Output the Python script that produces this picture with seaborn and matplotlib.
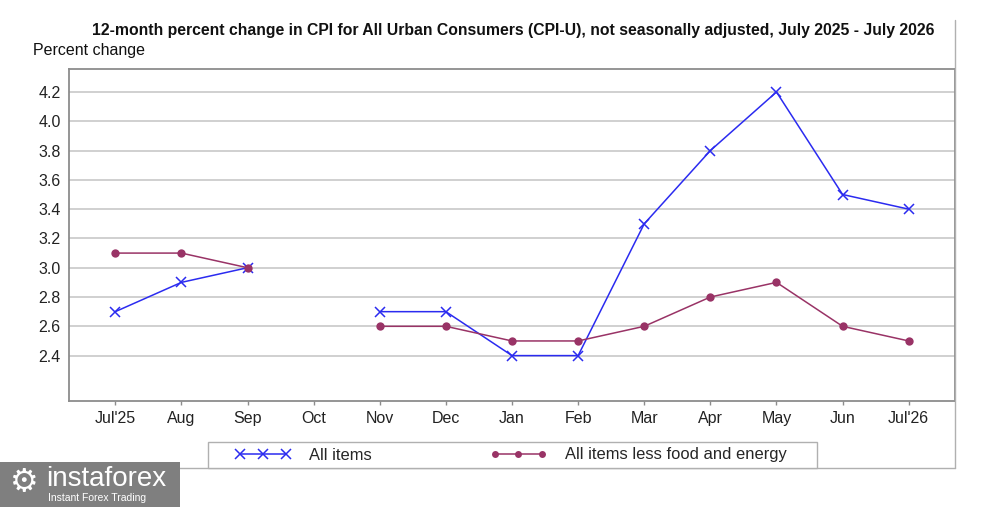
import numpy as np
import pandas as pd
import matplotlib
matplotlib.use("Agg")
import matplotlib.pyplot as plt
from matplotlib.lines import Line2D
from matplotlib.patches import Rectangle
import seaborn as sns

months = ["Jul'25", "Aug", "Sep", "Oct", "Nov", "Dec", "Jan", "Feb", "Mar", "Apr", "May", "Jun", "Jul'26"]
all_items = [2.7, 2.9, 3.0, np.nan, 2.7, 2.7, 2.4, 2.4, 3.3, 3.8, 4.2, 3.5, 3.4]
core_items = [3.1, 3.1, 3.0, np.nan, 2.6, 2.6, 2.5, 2.5, 2.6, 2.8, 2.9, 2.6, 2.5]
y_ticks = [2.4, 2.6, 2.8, 3.0, 3.2, 3.4, 3.6, 3.8, 4.0, 4.2]
series_names = ["All items", "All items less food and energy"]

sns.set_theme(style="white")
plt.rcParams['font.family'] = ['Liberation Sans', 'DejaVu Sans']

def make_df(vals, name):
    df = pd.DataFrame({"x": np.arange(len(months)), "y": vals, "series": name})
    seg = np.cumsum(pd.isna(df["y"]).astype(int))
    df["segment"] = seg
    return df.dropna()

df_all = make_df(all_items, series_names[0])
df_core = make_df(core_items, series_names[1])

W, H = 998, 507
fig = plt.figure(figsize=(W / 100, H / 100), dpi=100)
ax = fig.add_axes([69 / W, 1 - 401 / H, (955 - 69) / W, (401 - 69) / H])

blue = "#2b2bf0"
maroon = "#993366"

sns.lineplot(data=df_all, x="x", y="y", units="segment", estimator=None,
             color=blue, lw=1.1, marker="x", markersize=7.5, markeredgewidth=1.1,
             markeredgecolor=blue, ax=ax, legend=False, zorder=3)
sns.lineplot(data=df_core, x="x", y="y", units="segment", estimator=None,
             color=maroon, lw=1.1, marker="o", markersize=6, markeredgewidth=0,
             markerfacecolor=maroon, ax=ax, legend=False, zorder=4)

ax.set_xlim(-0.7, 12.7)
ax.set_ylim(2.09, 4.357)
ax.set_xticks(range(len(months)))
ax.set_xticklabels(months)
ax.set_yticks(y_ticks)
ax.set_yticklabels([f"{v:.1f}" for v in y_ticks])
ax.set_xlabel("")
ax.set_ylabel("")
ax.grid(axis="y", color="#c8c8c8", lw=1.2)
ax.grid(axis="x", visible=False)
ax.set_axisbelow(True)
for s in ax.spines.values():
    s.set_color("#8c8c8c")
    s.set_linewidth(1.3)
ax.tick_params(axis="both", labelsize=11.5, colors="#8c8c8c", labelcolor="#222222")
ax.tick_params(axis="x", length=3, width=1, pad=4, bottom=True, direction="out")
ax.tick_params(axis="y", length=0, pad=6)

fig.text(513.5 / W, 1 - 31 / H,
         "12-month percent change in CPI for All Urban Consumers (CPI-U), not seasonally adjusted, July 2025 - July 2026",
         ha="center", va="center", fontsize=11.35, fontweight="bold", color="#111111")
fig.text(33 / W, 1 - 50 / H, "Percent change", ha="left", va="center", fontsize=11.5, color="#111111")

# outer frame lines (right and bottom)
fig.add_artist(Line2D([955 / W, 955 / W], [1 - 20 / H, 1 - 468 / H], color="#b0b0b0", lw=1))
fig.add_artist(Line2D([0, 955 / W], [1 - 468 / H, 1 - 468 / H], color="#b0b0b0", lw=1))

# legend frame
fig.add_artist(Rectangle((208 / W, 1 - 468 / H), (817 - 208) / W, 26 / H, transform=fig.transFigure,
                         facecolor="white", edgecolor="#b0b0b0", lw=1, zorder=5))
# legend
handles = [Line2D([], [], color=blue, lw=1.1, marker="x", markersize=7, markeredgewidth=1.1),
           Line2D([], [], color=maroon, lw=1.1, marker="o", markersize=5, markeredgewidth=0)]
leg = fig.legend(handles, series_names, loc="center left", bbox_to_anchor=(235 / W, 1 - 455 / H),
                 ncol=2, numpoints=3, handlelength=3.4, handletextpad=1.1, columnspacing=7.15,
                 frameon=False, fontsize=11.9, borderpad=0, borderaxespad=0)
leg.set_zorder(6)

# watermark
fig.add_artist(Rectangle((0, 0), 180 / W, 45 / H, transform=fig.transFigure,
                         facecolor="#7f7f7f", edgecolor="none", zorder=10))
fig.text(10 / W, 1 - 482 / H, "\u2699", ha="left", va="center", fontsize=23, color="white",
         family="DejaVu Sans", zorder=11)
fig.text(46 / W, 1 - 479 / H, "instaforex", ha="left", va="center", fontsize=20, color="white",
         zorder=11)
fig.text(48 / W, 1 - 498 / H, "Instant Forex Trading", ha="left", va="center", fontsize=7.5,
         color="white", zorder=11)

fig.savefig("out.png", dpi=100, facecolor="white")
